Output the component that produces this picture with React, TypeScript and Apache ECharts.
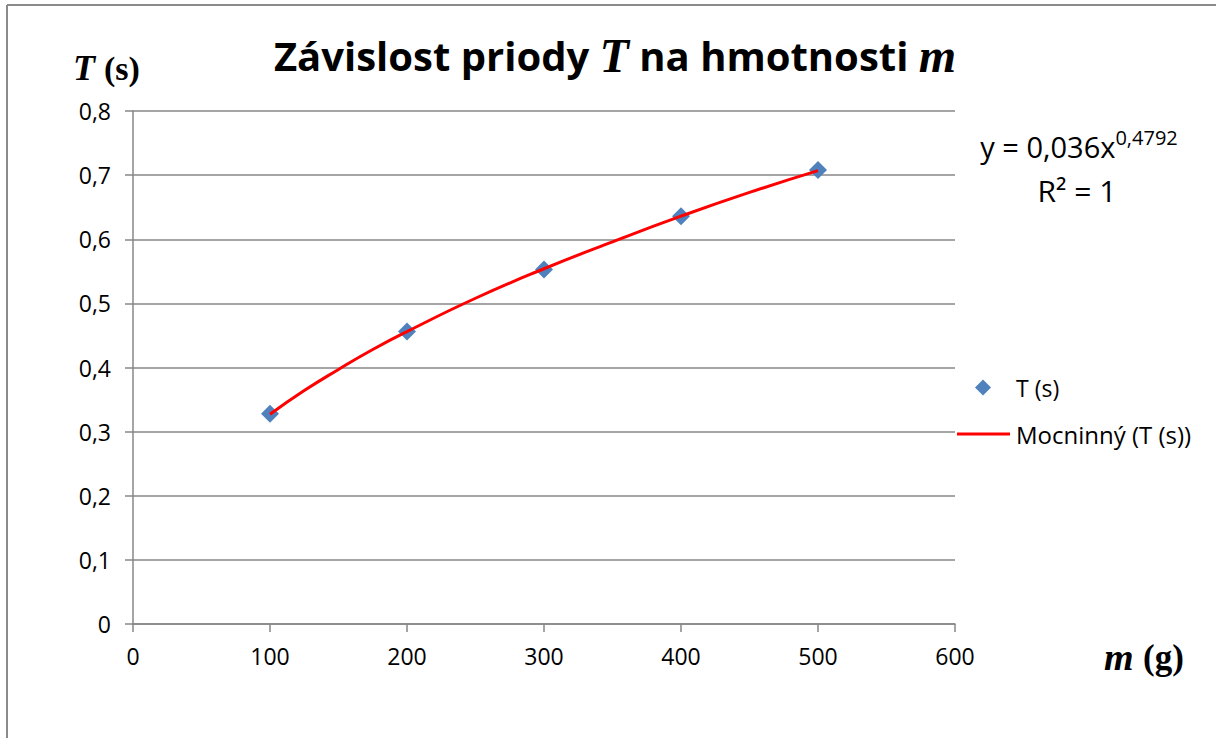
import React, { useEffect, useRef } from "react";
import * as echarts from "echarts";

const massG = [100, 200, 300, 400, 500];
const periodS = [0.328, 0.456, 0.553, 0.636, 0.708];
const trendX = [100, 125, 150, 175, 200, 250, 300, 350, 400, 450, 500];
const trendY = [0.327, 0.364, 0.397, 0.428, 0.456, 0.508, 0.554, 0.596, 0.636, 0.673, 0.707];
const seriesName = "T (s)";
const trendName = "Mocninný (T (s))";
const titleParts = ["Závislost priody ", "T", " na hmotnosti ", "m"];
const eqMain = "y = 0,036x";
const eqExp = "0,4792";
const r2Text = "R² = 1";

const SANS = "'Open Sans', 'Noto Sans', 'Liberation Sans', sans-serif";
const SERIF = "'Liberation Serif', 'DejaVu Serif', serif";
const GRID = "#878787";

export default function App() {
  const ref = useRef<HTMLDivElement>(null);
  useEffect(() => {
    if (!ref.current) return;
    const chart = echarts.init(ref.current, undefined, { renderer: "svg" });
    const scatterData = massG.map((m, i) => [m, periodS[i]]);
    const trendData = trendX.map((m, i) => [m, trendY[i]]);
    chart.setOption({
      animation: false,
      backgroundColor: "#ffffff",
      title: {
        text: `{a|${titleParts[0]}}{b|${titleParts[1]}}{a|${titleParts[2]}}{b|${titleParts[3]}}`,
        left: 610,
        textAlign: "center",
        top: 26,
        textStyle: {
          rich: {
            a: { fontFamily: SANS, fontWeight: "bold", fontSize: 40, color: "#000" },
            b: { fontFamily: SERIF, fontStyle: "italic", fontSize: 48, color: "#000" },
          },
        },
      },
      grid: { left: 133, right: 261, top: 111, bottom: 114, containLabel: false },
      xAxis: {
        type: "value",
        min: 0,
        max: 600,
        interval: 100,
        splitLine: { show: false },
        axisLine: { show: true, onZero: false, lineStyle: { color: GRID, width: 1.5 } },
        axisTick: { show: true, length: 8, lineStyle: { color: GRID, width: 1.5 } },
        axisLabel: { color: "#000", fontFamily: SANS, fontSize: 23, margin: 20 },
      },
      yAxis: {
        type: "value",
        min: 0,
        max: 0.8,
        interval: 0.1,
        splitLine: { show: true, lineStyle: { color: GRID, width: 1.5 } },
        axisLine: { show: true, onZero: false, lineStyle: { color: GRID, width: 1.5 } },
        axisTick: { show: true, length: 8, lineStyle: { color: GRID, width: 1.5 } },
        axisLabel: {
          color: "#000",
          fontFamily: SANS,
          fontSize: 23,
          margin: 22,
          formatter: (v: number) => (Math.round(v * 10) / 10).toString().replace(".", ","),
        },
      },
      legend: [
        {
          orient: "vertical",
          left: 975,
          top: 376,
          padding: 0,
          itemWidth: 16,
          itemHeight: 16,
          data: [{ name: seriesName, icon: "diamond" }],
          itemStyle: { opacity: 1 },
          textStyle: { fontFamily: SANS, fontSize: 23, color: "#000", padding: [0, 0, 0, 20] },
        },
        {
          orient: "vertical",
          left: 957,
          top: 422,
          padding: 0,
          itemWidth: 53,
          itemHeight: 3,
          data: [{ name: trendName, icon: "rect" }],
          textStyle: { fontFamily: SANS, fontSize: 24, color: "#000", padding: [0, 0, 0, 1] },
        },
      ],
      graphic: [
        { type: "line", shape: { x1: 7, y1: 5, x2: 1216, y2: 5 }, style: { stroke: "#8a8a8a", lineWidth: 2 } },
        { type: "line", shape: { x1: 7, y1: 5, x2: 7, y2: 738 }, style: { stroke: "#8a8a8a", lineWidth: 2 } },
        {
          type: "text",
          left: 73,
          top: 50,
          style: {
            text: "{i|T }{b|(s)}",
            rich: {
              i: { fontFamily: SERIF, fontStyle: "italic", fontWeight: "bold", fontSize: 36, fill: "#000" },
              b: { fontFamily: SERIF, fontWeight: "bold", fontSize: 34, fill: "#000" },
            },
          },
        },
        {
          type: "text",
          left: 1104,
          top: 638,
          style: {
            text: "{i|m }{b|(g)}",
            rich: {
              i: { fontFamily: SERIF, fontStyle: "italic", fontWeight: "bold", fontSize: 38, fill: "#000" },
              b: { fontFamily: SERIF, fontWeight: "bold", fontSize: 35, fill: "#000" },
            },
          },
        },
        {
          type: "text",
          x: 1079,
          y: 146,
          style: {
            text: `{m|${eqMain}}{s|${eqExp}}`,
            align: "center",
            verticalAlign: "middle",
            rich: {
              m: { fontFamily: SANS, fontSize: 29, fill: "#000" },
              s: { fontFamily: SANS, fontSize: 20, fill: "#000", verticalAlign: "top", padding: [0, 0, 17, 0] },
            },
          },
        },
        {
          type: "text",
          x: 1077,
          y: 190,
          style: {
            text: r2Text,
            align: "center",
            verticalAlign: "middle",
            fontFamily: SANS,
            fontSize: 30,
            fill: "#000",
          },
        },
      ],
      series: [
        {
          name: trendName,
          type: "line",
          data: trendData,
          smooth: true,
          showSymbol: false,
          symbol: "none",
          lineStyle: { color: "#ff0000", width: 3 },
          itemStyle: { color: "#ff0000" },
          z: 3,
        },
        {
          name: seriesName,
          type: "scatter",
          data: scatterData,
          symbol: "diamond",
          symbolSize: 18,
          itemStyle: { color: "#4f81bd", opacity: 1 },
          z: 2,
        },
      ],
    });
    return () => chart.dispose();
  }, []);
  return (
    <div
      ref={ref}
      style={{ position: "fixed", left: 0, top: 0, width: 1216, height: 738, background: "#fff" }}
    />
  );
}
